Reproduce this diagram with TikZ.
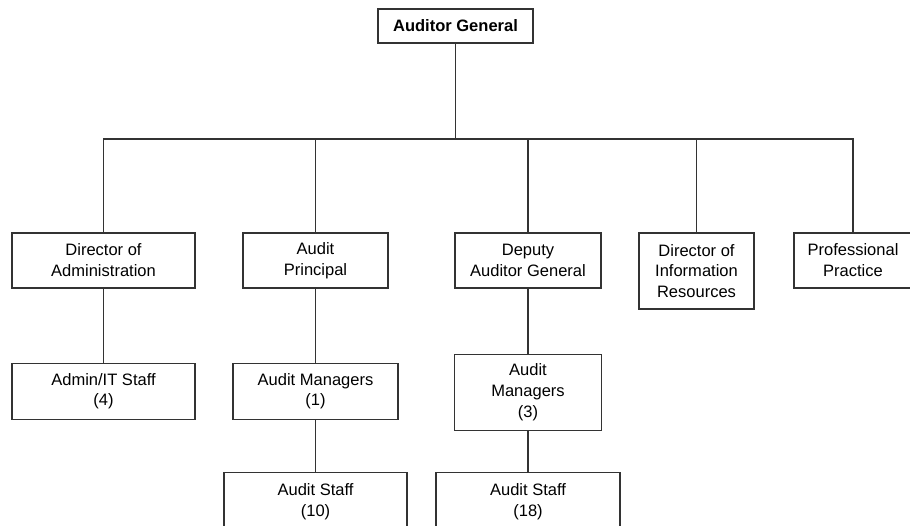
\documentclass[tikz,border=0pt]{standalone}
\usepackage{fontspec}
\setmainfont{Liberation Sans}
\usepackage{xcolor}
\definecolor{linegray}{HTML}{333333}
\usepackage{tikz}
\usetikzlibrary{positioning}
\tikzstyle{orgbox} = [
  rectangle, draw=linegray, line width=0.7pt, fill=white,
  text centered, align=center, inner sep=2pt,
  font=\fontsize{9.4}{11.9}\selectfont
]
\tikzstyle{orgline} = [
  draw=linegray, line width=0.7pt
]

\begin{document}
\begin{tikzpicture}[x=0.02cm, y=-0.02cm]

  \clip (0,0) rectangle (910,525);

  % ── Top ───────────────────────────────────────────────
  \node[orgbox, minimum width=3.1cm, minimum height=0.68cm,
        font=\fontsize{9.4}{11.9}\selectfont\bfseries]
    (auditgen) at (455.5,26) {Auditor General};
  \coordinate (bus) at (455.5,139);

  % ── First level ───────────────────────────────────────
  \node[orgbox, minimum width=3.66cm, minimum height=1.1cm]
    (diradmin) at (103.5,260.5) {Director of\\Administration};
  \node[orgbox, minimum width=2.9cm, minimum height=1.1cm]
    (principal) at (315.5,260.5) {Audit\\Principal};
  \node[orgbox, minimum width=2.92cm, minimum height=1.1cm]
    (deputy) at (528,260.5) {Deputy\\Auditor General};
  \node[orgbox, minimum width=2.3cm, minimum height=1.52cm]
    (dirinfo) at (696.5,271) {Director of\\Information\\Resources};
  \node[orgbox, minimum width=2.36cm, minimum height=1.1cm]
    (practice) at (853,260.5) {Professional\\Practice};

  % ── Second level ──────────────────────────────────────
  \node[orgbox, minimum width=3.66cm, minimum height=1.12cm, below=1.48cm of diradmin]
    (adminstaff) {Admin/IT Staff\\(4)};
  \node[orgbox, minimum width=3.3cm, minimum height=1.12cm, below=1.48cm of principal]
    (managersa) {Audit Managers\\(1)};
  \node[orgbox, minimum width=2.94cm, minimum height=1.52cm, below=1.3cm of deputy]
    (managersb) {Audit\\Managers\\(3)};

  % ── Third level ───────────────────────────────────────
  \node[orgbox, minimum width=3.66cm, minimum height=1.16cm, below=1.04cm of managersa]
    (staffa) {Audit Staff\\(10)};
  \node[orgbox, minimum width=3.68cm, minimum height=1.16cm, below=0.82cm of managersb]
    (staffb) {Audit Staff\\(18)};

  % ── Lines ─────────────────────────────────────────────
  \draw[orgline] (auditgen) -- (bus);
  \foreach \n in {diradmin, principal, deputy, dirinfo, practice}
    \draw[orgline] (\n.north) |- (bus);
  \draw[orgline] (diradmin) -- (adminstaff);
  \draw[orgline] (principal) -- (managersa);
  \draw[orgline] (managersa) -- (staffa);
  \draw[orgline] (deputy) -- (managersb);
  \draw[orgline] (managersb) -- (staffb);

\end{tikzpicture}
\end{document}
